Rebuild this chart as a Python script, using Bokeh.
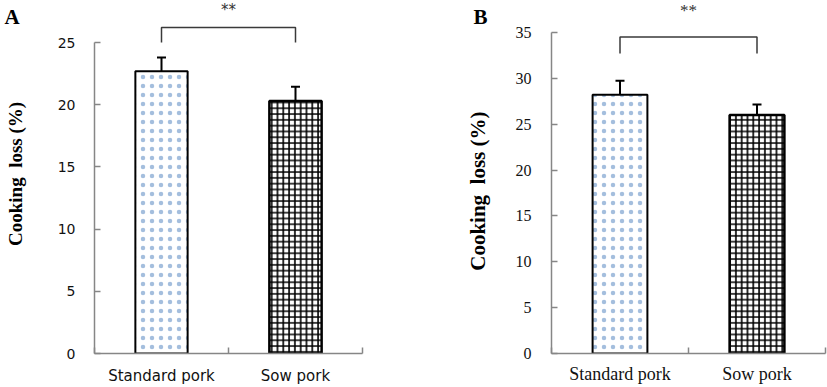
import math
from bokeh.plotting import figure
from bokeh.layouts import row
from bokeh.models import Range1d, FixedTicker, Whisker, TeeHead, ColumnDataSource
from bokeh.core.properties import value
from bokeh.embed import file_html
from bokeh.resources import INLINE

# ---- data ----
categories = ["Standard pork", "Sow pork"]
cat_pos = [0.5, 1.5]
loss_a = [22.7, 20.3]
err_a = [1.1, 1.15]
loss_b = [28.2, 26.0]
err_b = [1.55, 1.15]
ticks_a = [0, 5, 10, 15, 20, 25]
ticks_b = [0, 5, 10, 15, 20, 25, 30, 35]
sig_label = "**"
y_title = "Cooking\u00a0 loss (%)"
panel_letters = ["A", "B"]

AXIS_GRAY = "#868686"
FIG_H = 387


def side_panel(width, letter, letter_x, letter_base, title_x, title_y, title_size):
    s = figure(width=width, height=FIG_H, output_backend="svg", toolbar_location=None,
               x_range=Range1d(0, width), y_range=Range1d(0, FIG_H),
               x_axis_location=None, y_axis_location=None, min_border=0)
    s.outline_line_color = None
    s.grid.visible = False
    s.text(x=[letter_x], y=[FIG_H - letter_base], text=[letter], text_align="left",
           text_baseline="alphabetic", text_font=value("Liberation Serif"),
           text_font_style="bold", text_font_size="21px", text_color="black")
    s.text(x=[title_x], y=[FIG_H - title_y], text=[y_title], angle=math.pi / 2,
           text_align="center", text_baseline="middle",
           text_font=value("Liberation Serif"), text_font_style="bold",
           text_font_size=title_size, text_color="black")
    return s


def make_panel(loss, err, ticks, width, border_left, border_right, y_end, x_end,
               bar_width, tick_font, tick_size, tick_standoff, cat_font, cat_size,
               cat_standoff, star_y, star_font, star_size, bracket_lo, bracket_hi):
    p = figure(width=width, height=FIG_H, output_backend="svg", toolbar_location=None,
               x_range=Range1d(0, x_end), y_range=Range1d(0, y_end),
               min_border_left=border_left, min_border_right=border_right,
               min_border_top=2, min_border_bottom=34)
    p.outline_line_color = None
    p.grid.visible = False
    p.background_fill_color = "white"
    p.border_fill_color = "white"

    # bars
    p.vbar(x=[cat_pos[0]], top=[loss[0]], width=bar_width, bottom=0,
           fill_color="white", line_color="black", line_width=2,
           hatch_pattern="dot", hatch_color="#4a7ebb", hatch_scale=9,
           hatch_alpha=0.5)
    p.vbar(x=[cat_pos[1]], top=[loss[1]], width=bar_width, bottom=0,
           fill_color="white", line_color="black", line_width=2.5,
           hatch_pattern="cross", hatch_color="black", hatch_scale=5.8, hatch_weight=1.6)

    # error bars
    src = ColumnDataSource(dict(x=cat_pos, lo=loss, hi=[v + e for v, e in zip(loss, err)]))
    w = Whisker(base="x", lower="lo", upper="hi", source=src, line_color="black",
                line_width=2, lower_head=None,
                upper_head=TeeHead(size=9, line_width=2, line_color="black"))
    p.add_layout(w)

    # significance bracket
    p.line(x=[cat_pos[0], cat_pos[0], cat_pos[1], cat_pos[1]],
           y=[bracket_lo, bracket_hi, bracket_hi, bracket_lo],
           line_color="#3a3a3a", line_width=1.5)
    p.text(x=[(cat_pos[0] + cat_pos[1]) / 2], y=[star_y], text=[sig_label],
           text_align="center", text_baseline="alphabetic",
           text_font=value(star_font), text_font_size=star_size, text_color="#333333")

    # x axis
    xa = p.xaxis[0]
    xa.ticker = FixedTicker(ticks=cat_pos, minor_ticks=[0, 1, 2])
    xa.major_label_overrides = {cat_pos[0]: categories[0], cat_pos[1]: categories[1]}
    xa.major_tick_in = 0
    xa.major_tick_out = 0
    xa.minor_tick_in = 6
    xa.minor_tick_out = 0
    xa.minor_tick_line_color = AXIS_GRAY
    xa.minor_tick_line_width = 1.5
    xa.axis_line_color = AXIS_GRAY
    xa.axis_line_width = 1.5
    xa.major_label_text_font = cat_font
    xa.major_label_text_font_size = cat_size
    xa.major_label_text_color = "#111111"
    xa.major_label_standoff = cat_standoff

    # y axis
    ya = p.yaxis[0]
    ya.ticker = FixedTicker(ticks=ticks)
    ya.bounds = (ticks[0], ticks[-1])
    ya.major_tick_in = 6
    ya.major_tick_out = 0
    ya.minor_tick_line_color = None
    ya.major_tick_line_color = AXIS_GRAY
    ya.major_tick_line_width = 1.5
    ya.axis_line_color = AXIS_GRAY
    ya.axis_line_width = 1.5
    ya.major_label_text_font = tick_font
    ya.major_label_text_font_size = tick_size
    ya.major_label_text_color = "#111111"
    ya.major_label_standoff = tick_standoff
    return p


side_a = side_panel(30, panel_letters[0], letter_x=4, letter_base=16, title_x=15,
                    title_y=189, title_size="19px")
pa = make_panel(loss_a, err_a, ticks_a, width=390, border_left=64, border_right=58,
                y_end=28.22, x_end=2.0, bar_width=0.39,
                tick_font="DejaVu Sans", tick_size="14px", tick_standoff=19,
                cat_font="DejaVu Sans", cat_size="15px", cat_standoff=13,
                star_y=27.6, star_font="DejaVu Sans", star_size="15px",
                bracket_lo=25.0, bracket_hi=26.2)

side_b = side_panel(80, panel_letters[1], letter_x=53, letter_base=16, title_x=57,
                    title_y=208, title_size="21px")
pb = make_panel(loss_b, err_b, ticks_b, width=327, border_left=51, border_right=2,
                y_end=38.27, x_end=2.0, bar_width=0.40,
                tick_font="Liberation Serif", tick_size="16px", tick_standoff=20,
                cat_font="Liberation Serif", cat_size="18px", cat_standoff=10,
                star_y=37.35, star_font="Liberation Serif", star_size="17px",
                bracket_lo=32.7, bracket_hi=34.5)

layout = row(side_a, pa, side_b, pb)
open("out.html", "w").write(file_html(layout, INLINE))
